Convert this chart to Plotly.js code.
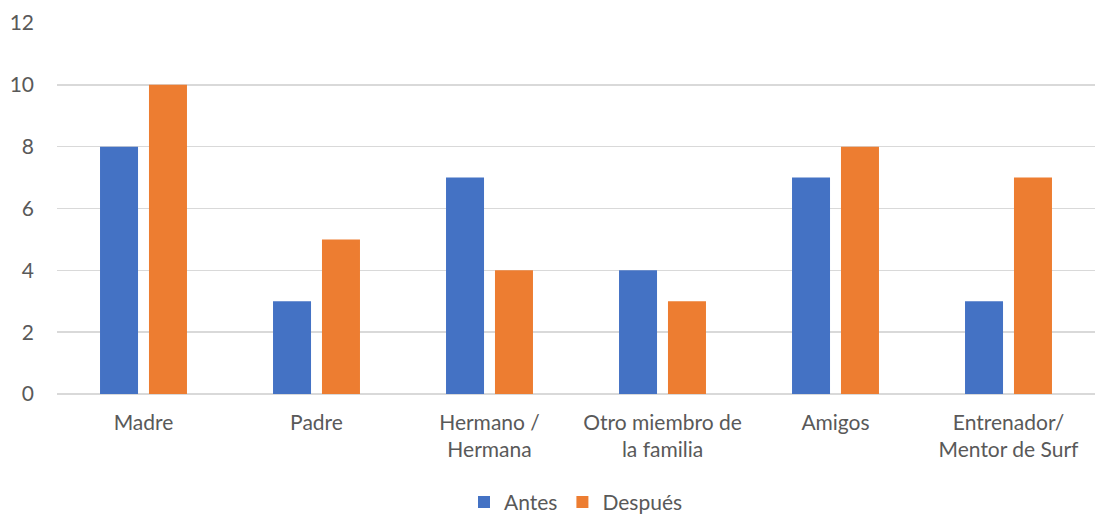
<!DOCTYPE html>
<html><head><meta charset="utf-8">
<script src="https://cdn.plot.ly/plotly-3.0.1.min.js"></script>
<style>html,body{margin:0;padding:0;background:#fff}#c{width:1097px;height:517px}</style>
</head><body><div id="c"></div>
<script>
const categories = ["Madre","Padre","Hermano /<br>Hermana","Otro miembro de<br>la familia","Amigos","Entrenador/<br>Mentor de Surf"];
const antes = [8,3,7,4,7,3];
const despues = [10,5,4,3,8,7];
const seriesNames = ["Antes","Después"];
const yTicks = [0,2,4,6,8,10,12];

const font = {family:"Lato, 'Open Sans', sans-serif", size:21, color:"#595959"};
const traces = [
  {type:"bar", name:seriesNames[0], x:categories, y:antes, marker:{color:"#4472C4"}},
  {type:"bar", name:seriesNames[1], x:categories, y:despues, marker:{color:"#ED7D31"}}
];
const layout = {
  width:1097, height:517,
  margin:{l:57, r:2, t:23, b:123, autoexpand:false},
  paper_bgcolor:"#fff", plot_bgcolor:"#fff",
  font:font,
  barmode:"group", bargap:0.434, bargroupgap:0.224,
  xaxis:{type:"category", tickfont:font, showgrid:false, zeroline:false, showline:false, ticks:"", ticklabelstandoff:14, automargin:false, fixedrange:true},
  yaxis:{range:[0,12], tickvals:yTicks, tickfont:font, gridcolor:"#D9D9D9", gridwidth:1.5, zeroline:true, zerolinecolor:"#D9D9D9", zerolinewidth:1.5, showline:false, ticks:"", ticklabelstandoff:22, automargin:false, fixedrange:true},
  legend:{orientation:"h", x:0.5, xanchor:"center", y:-0.292, yanchor:"middle", font:font, itemwidth:30, traceorder:"normal"},
  showlegend:true
};
Plotly.newPlot("c", traces, layout, {displayModeBar:false, staticPlot:true});
</script></body></html>
